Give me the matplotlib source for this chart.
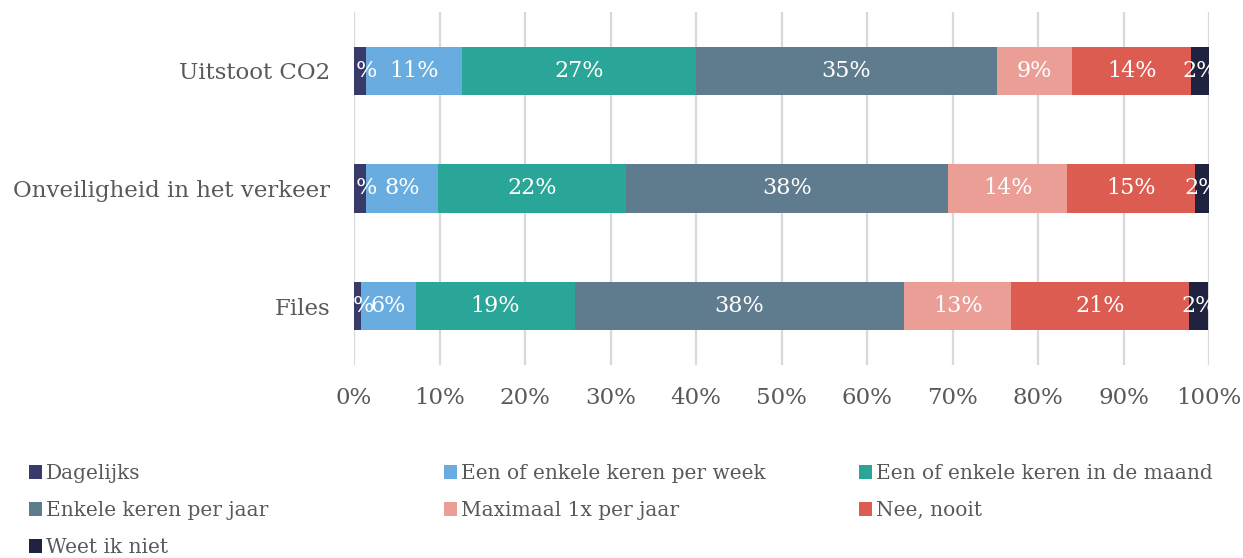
import matplotlib
matplotlib.use("Agg")
import matplotlib.pyplot as plt
import numpy as np

categories = ["Uitstoot CO2", "Onveiligheid in het verkeer", "Files"]
series_names = ["Dagelijks", "Een of enkele keren per week", "Een of enkele keren in de maand",
                "Enkele keren per jaar", "Maximaal 1x per jaar", "Nee, nooit", "Weet ik niet"]
dagelijks = [1.4, 1.4, 0.8]
per_week = [11.2, 8.4, 6.4]
per_maand = [27.4, 22.0, 18.7]
per_jaar = [35.2, 37.7, 38.4]
maximaal = [8.8, 13.9, 12.6]
nooit = [13.9, 15.0, 20.8]
weet_niet = [2.1, 1.6, 2.2]
series = [dagelijks, per_week, per_maand, per_jaar, maximaal, nooit, weet_niet]
colors = ["#383a6a", "#69ade0", "#2aa699", "#5f7b8e", "#eb9e96", "#dd5c52", "#1f2340"]
xticks = [0, 10, 20, 30, 40, 50, 60, 70, 80, 90, 100]

plt.rcParams['font.family'] = ['DejaVu Serif']
text_color = "#595959"

fig = plt.figure(figsize=(12.43, 5.58), dpi=100)
ax = fig.add_axes([354/1243, 1-365/558, (1209-354)/1243, (365-12)/558])

y = np.arange(len(categories))
left = np.zeros(len(categories))
bars = []
for name, vals, col in zip(series_names, series, colors):
    vals = np.array(vals)
    b = ax.barh(y, vals, left=left, height=0.41, color=col, label=name, zorder=3)
    bars.append(b)
    for yi, (l, v) in enumerate(zip(left, vals)):
        ax.text(l + v/2, yi, f"{round(v):.0f}%", ha="center", va="center",
                color="white", fontsize=16, zorder=4)
    left += vals

ax.set_xlim(0, 100)
ax.set_ylim(2.5, -0.5)
ax.set_yticks(y)
ax.set_yticklabels(categories, fontsize=16.5, color=text_color)
ax.set_xticks(xticks)
ax.set_xticklabels([f"{t}%" for t in xticks], fontsize=16.5, color=text_color)
ax.tick_params(axis="both", length=0)
ax.tick_params(axis="x", pad=16)
ax.tick_params(axis="y", pad=17)
ax.grid(axis="x", color="#d9d9d9", linewidth=1.6, zorder=0)
for s in ax.spines.values():
    s.set_visible(False)

cols = [[0, 3, 6], [1, 4], [2, 5]]
xpos = [29/1243, 444/1243, 859/1243]
for idxs, xp in zip(cols, xpos):
    fig.legend([bars[i] for i in idxs], [series_names[i] for i in idxs],
               loc="upper left", bbox_to_anchor=(xp, 1-464/558), frameon=False,
               fontsize=14.5, handlelength=0.65, handleheight=0.65, handletextpad=0.2,
               labelspacing=0.9, labelcolor=text_color, borderaxespad=0, borderpad=0)

fig.savefig("out.png", dpi=100)
